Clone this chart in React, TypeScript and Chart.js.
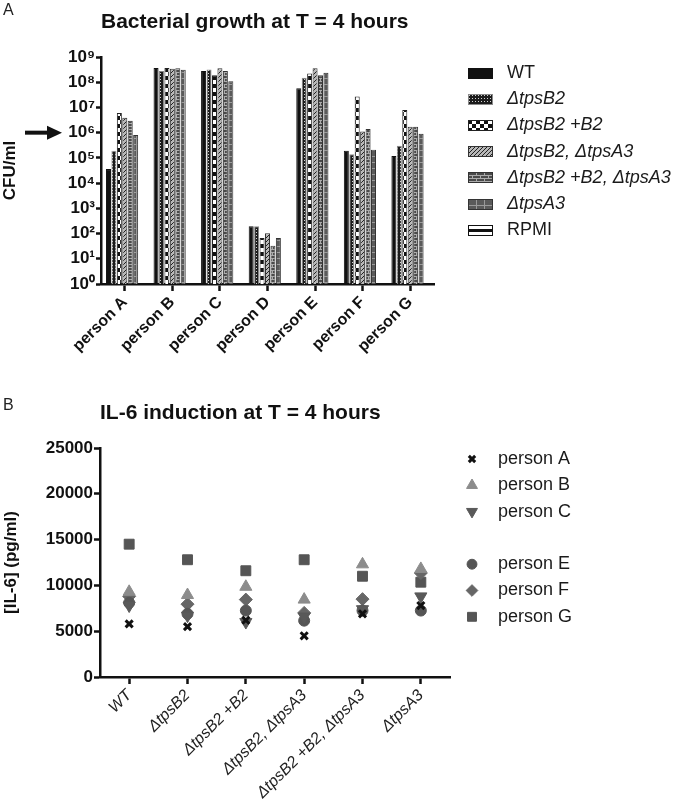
import React, { useEffect, useRef } from 'react';
import { Chart, registerables } from 'chart.js';
import { drawPoint } from 'chart.js/helpers';

Chart.register(...registerables);

const FONT = "'Liberation Sans', Arial, Helvetica, sans-serif";

// ---------- Panel A: bacterial growth (CFU/ml, log scale) ----------
const people = ['person A', 'person B', 'person C', 'person D', 'person E', 'person F', 'person G'];
const strainNamesA = ['WT', 'ΔtpsB2', 'ΔtpsB2 +B2', 'ΔtpsB2, ΔtpsA3', 'ΔtpsB2 +B2, ΔtpsA3', 'ΔtpsA3', 'RPMI'];
const cfuWT = [3.6e4, 3.7e8, 2.8e8, 195, 5.8e7, 1.9e5, 1.2e5];
const cfuTpsB2 = [1.9e5, 2.8e8, 3.2e8, 195, 1.5e8, 1.4e5, 3.0e5];
const cfuTpsB2PlusB2 = [6.0e6, 3.7e8, 1.9e8, 67, 2.2e8, 2.7e7, 8.0e6];
const cfuTpsB2TpsA3 = [3.9e6, 3.4e8, 3.6e8, 102, 3.6e8, 1.1e6, 1.7e6];
const cfuTpsB2PlusB2TpsA3 = [3.0e6, 3.6e8, 2.8e8, 33, 1.9e8, 1.4e6, 1.7e6];
const cfuTpsA3 = [8.0e5, 3.1e8, 1.1e8, 67, 2.4e8, 2.1e5, 9.0e5];
const cfuRPMI: (number | null)[] = [null, null, null, null, null, null, null];
const cfuTickExponents = [0, 1, 2, 3, 4, 5, 6, 7, 8, 9];
const inoculumMark = 1e6;

// ---------- Panel B: IL-6 induction ----------
const strainsB = ['WT', 'ΔtpsB2', 'ΔtpsB2 +B2', 'ΔtpsB2, ΔtpsA3', 'ΔtpsB2 +B2, ΔtpsA3', 'ΔtpsA3'];
const il6PersonA = [5800, 5500, 6200, 4500, 6900, 7800];
const il6PersonB = [9300, 8950, 9850, 8450, 12300, 11800];
const il6PersonC = [7800, 6700, 6000, 6600, 7400, 8800];
const il6PersonE = [8100, 6900, 7250, 6150, 7250, 7250];
const il6PersonF = [8800, 7950, 8450, 7000, 8500, 11350];
const il6PersonG = [14500, 12800, 11600, 12800, 11000, 10350];
const il6Max = 25000;
const il6Step = 5000;

// ---------- styles ----------
const barStyles = [
  { kind: 'solid', border: '#111' },
  { kind: 'dots', border: '#8a8a8a' },
  { kind: 'checker', border: '#222' },
  { kind: 'diag', border: '#333' },
  { kind: 'brick', border: '#333' },
  { kind: 'grid', border: '#333' },
  { kind: 'bands', border: '#111' },
];

function makePattern(kind: string): any {
  if (kind === 'solid') return '#111';
  const c = document.createElement('canvas');
  const g = c.getContext('2d')!;
  const px = (x: number, y: number, w: number, h: number, col: string) => {
    g.fillStyle = col;
    g.fillRect(x, y, w, h);
  };
  switch (kind) {
    case 'dots':
      c.width = 3; c.height = 3;
      px(0, 0, 3, 3, '#1b1b1b'); px(1, 1, 1, 1, '#cfcfcf');
      break;
    case 'checker':
      c.width = 8; c.height = 8;
      px(0, 0, 8, 8, '#fff'); px(0, 0, 4, 4, '#111'); px(4, 4, 4, 4, '#111');
      break;
    case 'diag':
      c.width = 4; c.height = 4;
      px(0, 0, 4, 4, '#b8b8b8');
      for (let i = 0; i < 4; i++) px(i, 3 - i, 1, 1, '#222');
      break;
    case 'brick':
      c.width = 8; c.height = 6;
      px(0, 0, 8, 6, '#4a4a4a'); px(0, 0, 8, 1, '#ababab'); px(0, 3, 8, 1, '#ababab');
      px(0, 0, 1, 3, '#ababab'); px(4, 3, 1, 3, '#ababab');
      break;
    case 'grid':
      c.width = 8; c.height = 6;
      px(0, 0, 8, 6, '#5a5a5a'); px(0, 0, 8, 1, '#9a9a9a'); px(0, 0, 1, 6, '#9a9a9a');
      break;
    case 'bands':
      c.width = 4; c.height = 11;
      px(0, 0, 4, 11, '#fff'); px(0, 4, 4, 3, '#111');
      break;
  }
  return g.createPattern(c, 'repeat');
}

const SUP = ['⁰', '¹', '²', '³', '⁴', '⁵', '⁶', '⁷', '⁸', '⁹'];

const panelAPlugin = {
  id: 'panelA',
  afterDraw(chart: any) {
    const ctx = chart.ctx as CanvasRenderingContext2D;
    ctx.save();
    // panel letter
    ctx.fillStyle = '#222';
    ctx.font = `16px ${FONT}`;
    ctx.textBaseline = 'middle';
    ctx.textAlign = 'left';
    ctx.fillText('A', 3, 11);
    // arrow at inoculum
    const ay = chart.scales.y.getPixelForValue(inoculumMark);
    ctx.fillStyle = '#111';
    ctx.fillRect(25, ay - 2, 25, 4);
    ctx.beginPath();
    ctx.moveTo(47, ay - 7);
    ctx.lineTo(62, ay);
    ctx.lineTo(47, ay + 7);
    ctx.closePath();
    ctx.fill();
    // legend
    chart.data.datasets.forEach((ds: any, i: number) => {
      const y = 73 + i * 26.2;
      ctx.save();
      ctx.translate(468, Math.round(y - 5.5));
      ctx.fillStyle = ds.backgroundColor;
      ctx.fillRect(0, 0, 25, 11);
      ctx.strokeStyle = ds.borderColor;
      ctx.lineWidth = 1;
      ctx.strokeRect(0.5, 0.5, 24, 10);
      ctx.restore();
      const italic = ds.label.includes('Δ');
      ctx.fillStyle = '#1a1a1a';
      ctx.font = `${italic ? 'italic ' : ''}18px ${FONT}`;
      ctx.textBaseline = 'middle';
      ctx.fillText(ds.label, 507, y);
    });
    ctx.restore();
  },
};

const panelBPlugin = {
  id: 'panelB',
  afterDraw(chart: any) {
    const ctx = chart.ctx as CanvasRenderingContext2D;
    ctx.save();
    ctx.fillStyle = '#222';
    ctx.font = `16px ${FONT}`;
    ctx.textBaseline = 'middle';
    ctx.textAlign = 'left';
    ctx.fillText('B', 3, 10);
    chart.data.datasets.forEach((ds: any) => {
      const row = ds.label.charCodeAt(ds.label.length - 1) - 65;
      const y = 63 + row * 26.3;
      ctx.save();
      ctx.fillStyle = ds.pointBackgroundColor;
      ctx.strokeStyle = ds.pointBorderColor;
      ctx.lineWidth = ds.pointBorderWidth;
      drawPoint(ctx, {
        pointStyle: ds.pointStyle,
        rotation: ds.pointRotation || 0,
        radius: ds.pointRadius * 0.9,
        borderWidth: ds.pointBorderWidth,
      } as any, 472, y);
      ctx.restore();
      ctx.fillStyle = '#1a1a1a';
      ctx.font = `18px ${FONT}`;
      ctx.textBaseline = 'middle';
      ctx.fillText(ds.label, 498, y);
    });
    ctx.restore();
  },
};

const axisCommon = {
  border: { display: true, color: '#111', width: 2.5 },
};

export default function App() {
  const refA = useRef<HTMLCanvasElement>(null);
  const refB = useRef<HTMLCanvasElement>(null);

  useEffect(() => {
    const seriesA = [cfuWT, cfuTpsB2, cfuTpsB2PlusB2, cfuTpsB2TpsA3, cfuTpsB2PlusB2TpsA3, cfuTpsA3, cfuRPMI];
    const chartA = new Chart(refA.current!, {
      type: 'bar',
      data: {
        labels: people,
        datasets: seriesA.map((d, i) => ({
          label: strainNamesA[i],
          data: d as any,
          backgroundColor: makePattern(barStyles[i].kind),
          borderColor: barStyles[i].border,
          borderWidth: 1,
          barPercentage: 0.92,
          categoryPercentage: 0.8,
        })),
      },
      options: {
        responsive: false,
        animation: false,
        events: [],
        layout: { padding: { left: 0, right: 246, top: 0, bottom: 0 } },
        plugins: {
          legend: { display: false },
          tooltip: { enabled: false },
          title: {
            display: true,
            text: 'Bacterial growth at T = 4 hours',
            align: 'start',
            fullSize: false,
            color: '#111',
            font: { family: FONT, size: 21, weight: 'bold' },
            padding: { top: 10, bottom: 21.8 },
          },
        },
        scales: {
          x: {
            type: 'category',
            offset: true,
            ...axisCommon,
            grid: { display: true, drawOnChartArea: false, drawTicks: true, tickLength: 7, tickWidth: 2.5, tickColor: '#111', offset: false },
            ticks: { color: '#111', font: { family: FONT, size: 16, weight: 'bold' }, minRotation: 45, maxRotation: 45, autoSkip: false, padding: 2 },
            afterFit: (s: any) => { s.height = 112; },
          },
          y: {
            type: 'logarithmic',
            min: 1,
            max: 1e9,
            ...axisCommon,
            grid: { display: true, drawOnChartArea: false, drawTicks: true, tickLength: 5, tickWidth: 2.5, tickColor: '#111' },
            afterBuildTicks: (s: any) => { s.ticks = cfuTickExponents.map((e) => ({ value: Math.pow(10, e) })); },
            ticks: {
              color: '#111',
              font: { family: FONT, size: 17, weight: 'bold' },
              padding: 1,
              callback: (v: any) => '10' + SUP[Math.round(Math.log10(Number(v)))],
            },
            title: { display: true, text: 'CFU/ml', color: '#111', font: { family: FONT, size: 17, weight: 'bold' }, padding: { top: 0, bottom: 0 } },
            afterFit: (s: any) => { s.width = 101; },
          },
        },
      },
      plugins: [panelAPlugin],
    } as any);

    const seriesB = [
      { label: 'person A', data: il6PersonA, style: 'crossRot', color: '#111', r: 5, bw: 3, rot: 0 },
      { label: 'person B', data: il6PersonB, style: 'triangle', color: '#8c8c8c', r: 7, bw: 1, rot: 0 },
      { label: 'person C', data: il6PersonC, style: 'triangle', color: '#595959', r: 7, bw: 1, rot: 180 },
      { label: 'person E', data: il6PersonE, style: 'circle', color: '#555', r: 5.5, bw: 1, rot: 0 },
      { label: 'person F', data: il6PersonF, style: 'rectRot', color: '#666', r: 6.5, bw: 1, rot: 0 },
      { label: 'person G', data: il6PersonG, style: 'rect', color: '#555', r: 7, bw: 1, rot: 0 },
    ];
    const chartB = new Chart(refB.current!, {
      type: 'line',
      data: {
        labels: strainsB,
        datasets: seriesB.map((s) => ({
          label: s.label,
          data: s.data,
          showLine: false,
          pointStyle: s.style,
          pointRadius: s.r,
          pointBorderWidth: s.bw,
          pointRotation: s.rot,
          pointBackgroundColor: s.color,
          pointBorderColor: s.color,
          backgroundColor: s.color,
          borderColor: s.color,
        })),
      },
      options: {
        responsive: false,
        animation: false,
        events: [],
        layout: { padding: { left: 0, right: 230, top: 0, bottom: 0 } },
        plugins: {
          legend: { display: false },
          tooltip: { enabled: false },
          title: {
            display: true,
            text: 'IL-6 induction at T = 4 hours',
            align: 'start',
            fullSize: false,
            color: '#111',
            font: { family: FONT, size: 21, weight: 'bold' },
            padding: { top: 4.4, bottom: 22.4 },
          },
        },
        scales: {
          x: {
            type: 'category',
            offset: true,
            ...axisCommon,
            grid: { display: true, drawOnChartArea: false, drawTicks: true, tickLength: 7, tickWidth: 2.5, tickColor: '#111', offset: false },
            ticks: { color: '#222', font: { family: FONT, size: 16, style: 'italic' }, minRotation: 45, maxRotation: 45, autoSkip: false, padding: 2 },
            afterFit: (s: any) => { s.height = 135; },
          },
          y: {
            type: 'linear',
            min: 0,
            max: il6Max,
            ...axisCommon,
            grid: { display: true, drawOnChartArea: false, drawTicks: true, tickLength: 6, tickWidth: 2.5, tickColor: '#111' },
            ticks: {
              stepSize: il6Step,
              color: '#111',
              font: { family: FONT, size: 17, weight: 'bold' },
              padding: 1,
              callback: (v: any) => String(v),
            },
            title: { display: true, text: '[IL-6] (pg/ml)', color: '#111', font: { family: FONT, size: 17, weight: 'bold' }, padding: { top: 1, bottom: 0 } },
            afterFit: (s: any) => { s.width = 100; },
          },
        },
      },
      plugins: [panelBPlugin],
    } as any);

    return () => {
      chartA.destroy();
      chartB.destroy();
    };
  }, []);

  return (
    <div style={{ position: 'absolute', left: 0, top: 0, width: 680, height: 812, background: '#fff' }}>
      <canvas ref={refA} width={680} height={396} style={{ position: 'absolute', left: 0, top: 0, display: 'block' }} />
      <canvas ref={refB} width={680} height={416} style={{ position: 'absolute', left: 0, top: 396, display: 'block' }} />
    </div>
  );
}
